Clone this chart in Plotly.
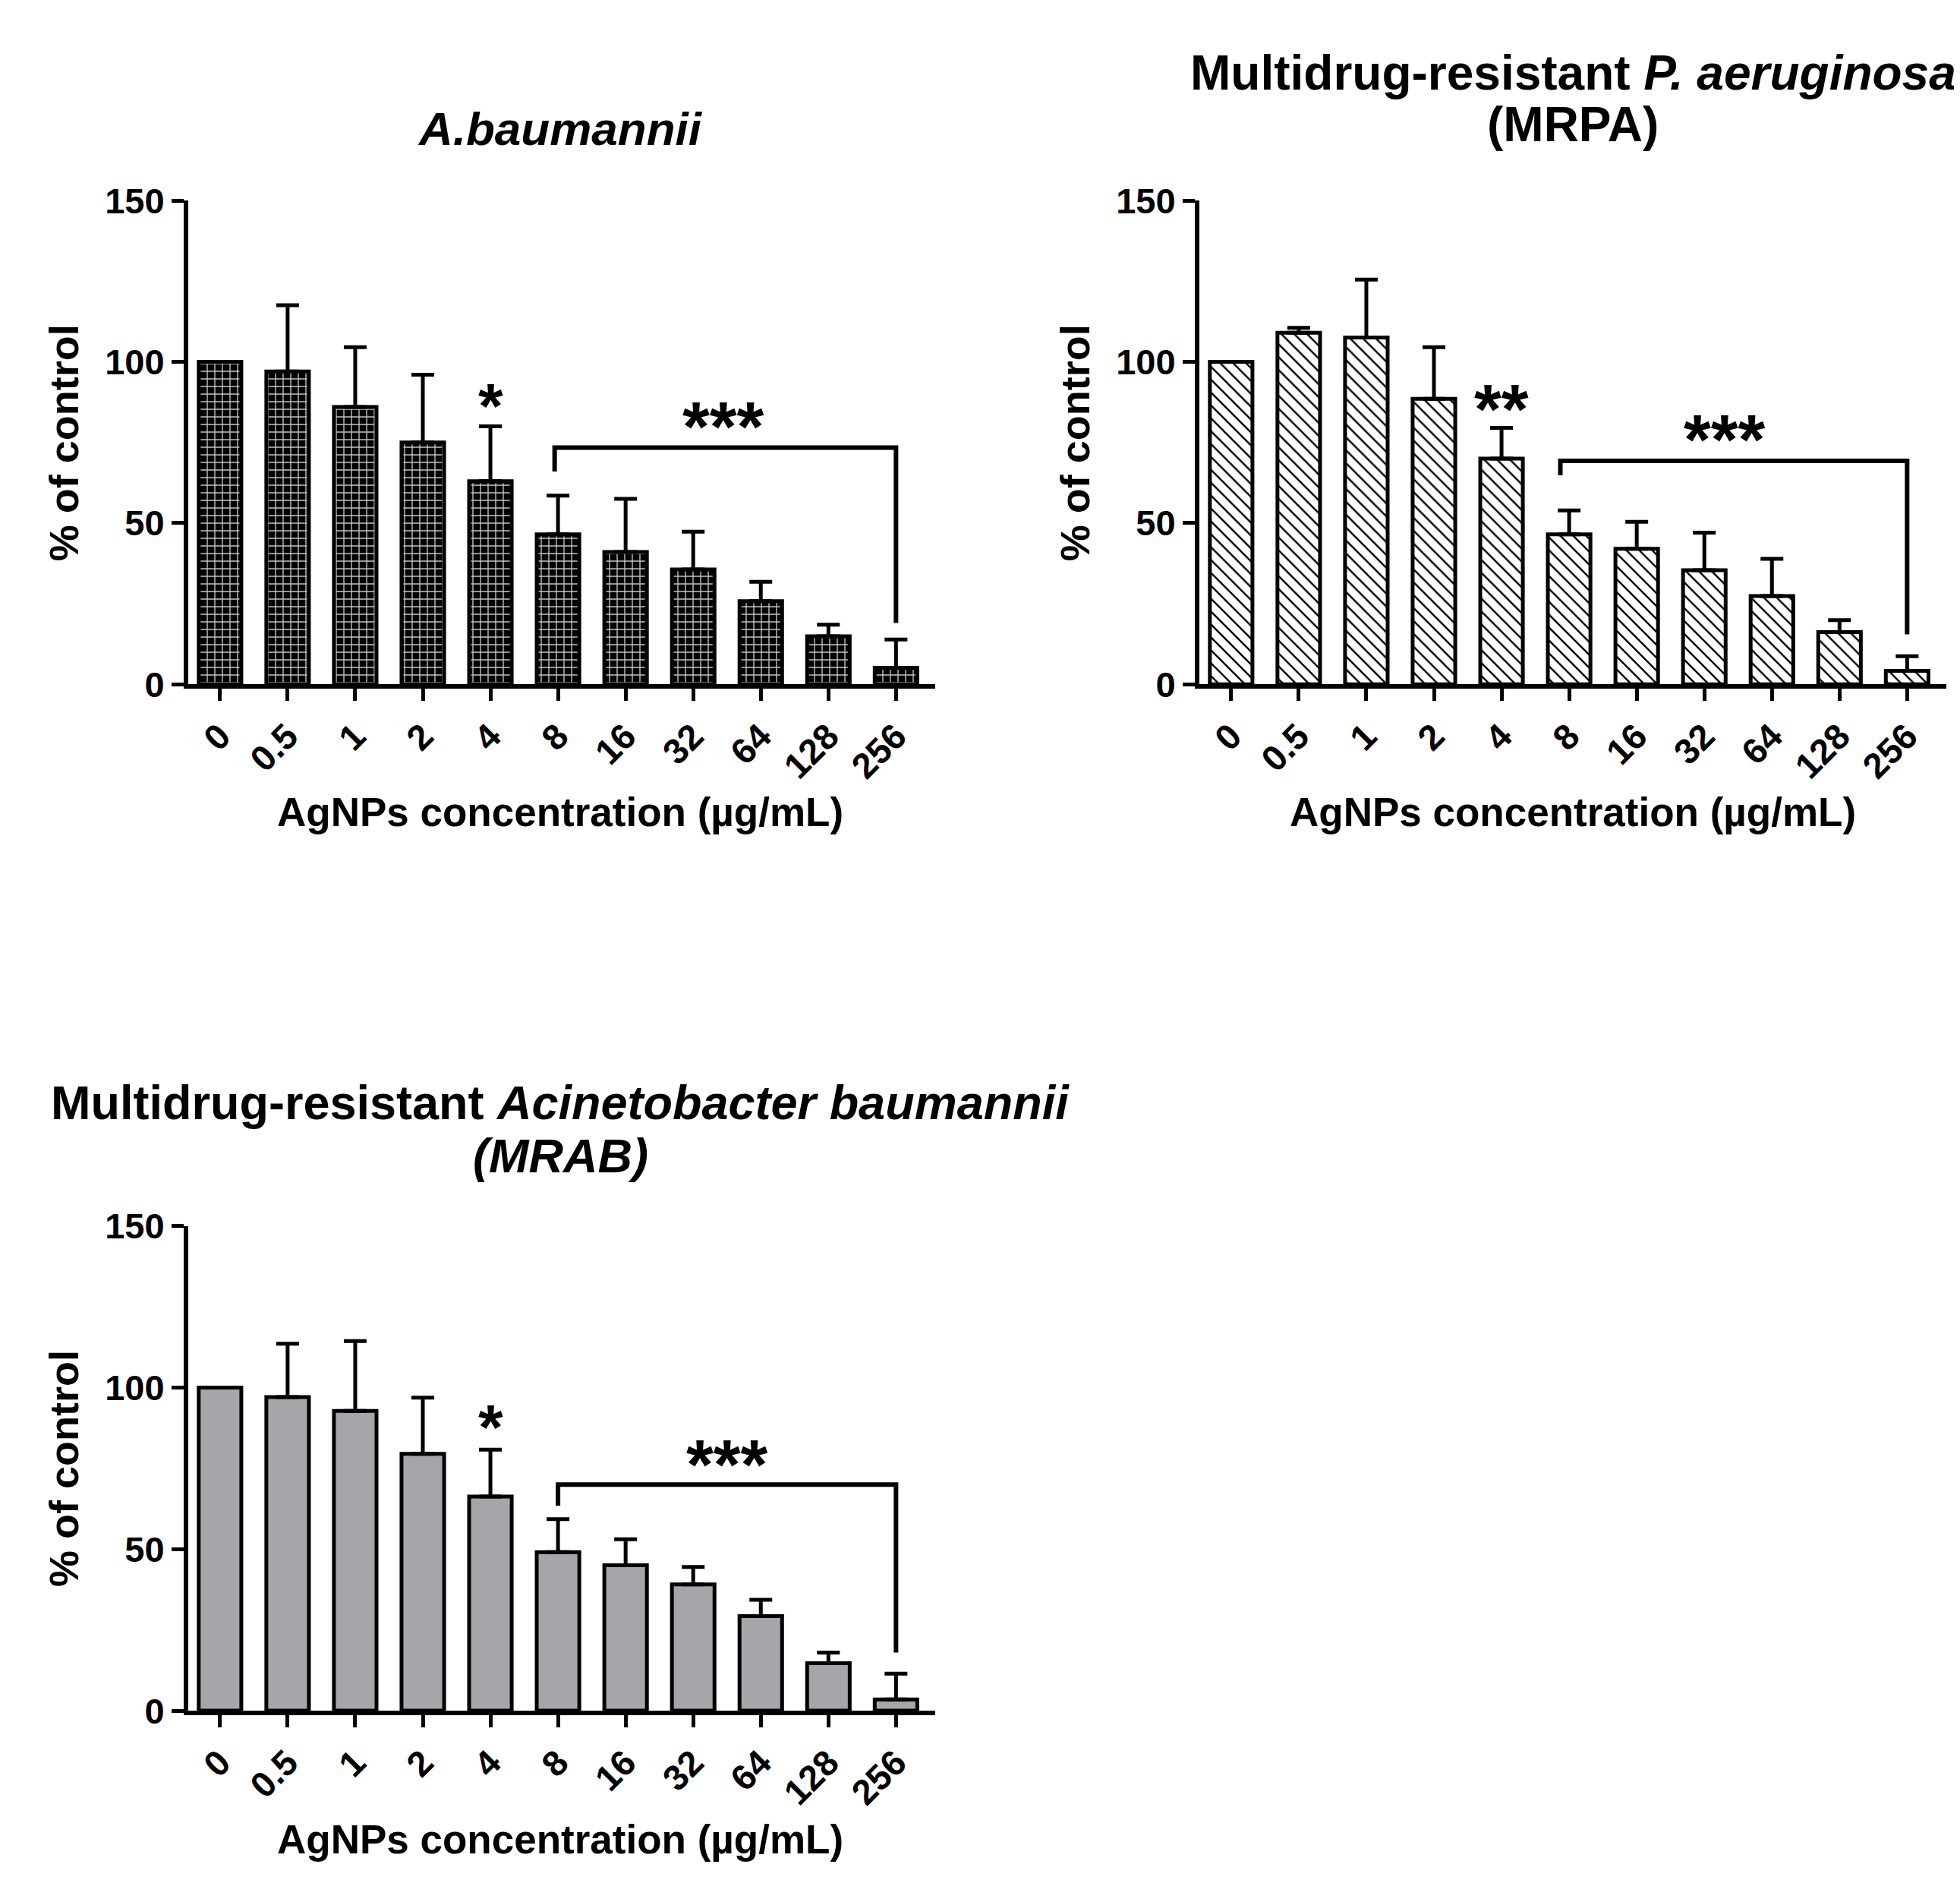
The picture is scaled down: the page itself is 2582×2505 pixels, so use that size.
import plotly.graph_objects as go

# concentrations (µg/mL)
concentrations = ["0", "0.5", "1", "2", "4", "8", "16", "32", "64", "128", "256"]

# A.baumannii
ab_mean = [100, 97, 86, 75, 63, 46.5, 41, 35.6, 25.8, 14.9, 5.1]
ab_err = [0, 20.5, 18.5, 21, 17, 12, 16.5, 11.7, 6, 3.6, 8.8]

# Multidrug-resistant P. aeruginosa (MRPA)
mrpa_mean = [100, 109, 107.5, 88.5, 70, 46.5, 42, 35.4, 27.4, 16.2, 4.2]
mrpa_err = [0, 1.5, 18, 16, 9.5, 7.4, 8.4, 11.6, 11.5, 3.7, 4.5]

# Multidrug-resistant Acinetobacter baumannii (MRAB)
mrab_mean = [100, 97.1, 92.8, 79.5, 66.3, 49.1, 45, 39.1, 29.3, 14.7, 3.5]
mrab_err = [0, 16.5, 21.6, 17.4, 14.5, 10.2, 8.1, 5.4, 5, 3.3, 8]

# significance marks: (label, x index, y value)
ab_stars = [("*", 4, 90.5), ("***", 7.45, 84)]
mrpa_stars = [("**", 4, 89.5), ("***", 7.3, 80)]
mrab_stars = [("*", 4, 92), ("***", 7.5, 80.5)]

# brackets: x of left/right leg, y of bar, y of leg ends
ab_bracket = [4.95, 10, 73.4, 66, 19]
mrpa_bracket = [4.87, 10, 69.3, 64.8, 15.5]
mrab_bracket = [5, 10, 70, 63.5, 18]

FONT = "Liberation Sans, Arial, sans-serif"
W, H = 2582, 2505

fig = go.Figure()


def add_panel(n, mean, err, stars, bracket, marker):
    xs = list(range(len(concentrations)))
    sfx = "" if n == 1 else str(n)
    fig.add_trace(go.Bar(
        x=xs, y=mean, width=0.63, marker=marker,
        error_y=dict(type="data", symmetric=False, array=err,
                     arrayminus=[0] * len(err), color="black",
                     thickness=5, width=15),
        xaxis="x" + sfx, yaxis="y" + sfx, showlegend=False))
    xl, xr, yb, yl, yr = bracket
    fig.add_trace(go.Scatter(
        x=[xl, xl, xr, xr], y=[yl, yb, yb, yr], mode="lines",
        line=dict(color="black", width=6),
        xaxis="x" + sfx, yaxis="y" + sfx, showlegend=False))
    for txt, sx, sy in stars:
        size = 84 if len(txt) == 1 else 92
        fig.add_annotation(x=sx, y=sy, text=txt, showarrow=False,
                           xref="x" + sfx, yref="y" + sfx,
                           yanchor="middle", yshift=-18,
                           font=dict(family=FONT, size=size, color="black",
                                     weight="bold"))


axis_common = dict(showline=True, linewidth=6, linecolor="black",
                   showgrid=False, zeroline=False, ticks="outside",
                   ticklen=16, tickwidth=5, tickcolor="black",
                   tickfont=dict(family=FONT, size=47, color="black",
                                 weight="bold"))


def axes(n, xdom, ydom):
    sfx = "" if n == 1 else str(n)
    xa = dict(axis_common, domain=xdom, anchor="y" + sfx,
              range=[-0.47, 10.58], tickmode="array",
              tickvals=list(range(len(concentrations))),
              ticktext=concentrations, tickangle=-45)
    ya = dict(axis_common, domain=ydom, anchor="x" + sfx,
              range=[0, 150], tickmode="array", tickvals=[0, 50, 100, 150])
    fig.update_layout(**{"xaxis" + sfx: xa, "yaxis" + sfx: ya})


add_panel(1, ab_mean, ab_err, ab_stars, ab_bracket,
          dict(color="black", line=dict(color="black", width=5),
               pattern=dict(shape="+", fgcolor="#c8c8c8", bgcolor="black",
                            size=10, solidity=0.25, fillmode="replace")))
add_panel(2, mrpa_mean, mrpa_err, mrpa_stars, mrpa_bracket,
          dict(color="white", line=dict(color="black", width=5),
               pattern=dict(shape="\\", fgcolor="black", bgcolor="white",
                            size=12, solidity=0.2, fillmode="replace")))
add_panel(3, mrab_mean, mrab_err, mrab_stars, mrab_bracket,
          dict(color="#a6a6aa", line=dict(color="black", width=5)))

axes(1, [240 / W, 1224 / W], [1 - 885 / H, 1 - 234 / H])
axes(2, [1572 / W, 2556 / W], [1 - 885 / H, 1 - 234 / H])
axes(3, [240 / W, 1224 / W], [1 - 2266 / H, 1 - 1614 / H])


def text(x, y, s, size, angle=0):
    fig.add_annotation(x=x / W, y=1 - y / H, xref="paper", yref="paper",
                       text=s, showarrow=False, textangle=angle,
                       xanchor="center", yanchor="middle",
                       font=dict(family=FONT, size=size, color="black",
                                 weight="bold"))


# panel titles
text(730, 137, "<i>A.baumannii</i>", 62)
text(2064, 62, "Multidrug-resistant <i>P. aeruginosa</i>", 64)
text(2064, 132, "(MRPA)", 64)
text(730, 1448, "Multidrug-resistant <i>Acinetobacter baumannii</i>", 63)
text(730, 1519, "<i>(MRAB)</i>", 63)

# axis titles
xtitle = "AgNPs concentration (µg/mL)"
ytitle = "% of control"
text(730, 1057, xtitle, 53)
text(2064, 1057, xtitle, 53)
text(730, 2439, xtitle, 53)
text(76, 560, ytitle, 54, -90)
text(1408, 560, ytitle, 54, -90)
text(76, 1940, ytitle, 54, -90)

fig.update_layout(width=W, height=H, margin=dict(l=0, r=0, t=0, b=0),
                  paper_bgcolor="white", plot_bgcolor="white",
                  bargap=0.37)

fig.write_html("out.html")
